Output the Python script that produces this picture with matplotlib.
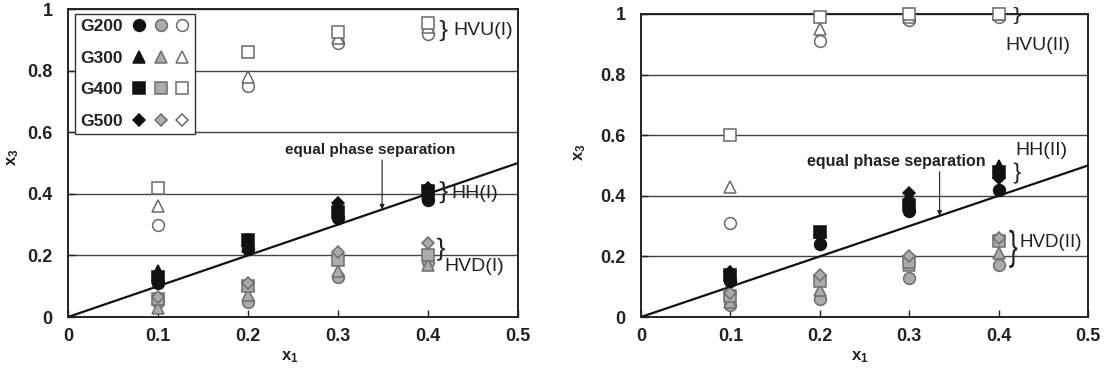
import matplotlib
matplotlib.use("Agg")
import matplotlib.pyplot as plt
from matplotlib.legend_handler import HandlerTuple
from matplotlib.lines import Line2D
from matplotlib.textpath import TextPath
from matplotlib.patches import PathPatch
from matplotlib.font_manager import FontProperties
from matplotlib.transforms import Affine2D, ScaledTranslation

plt.rcParams['font.family'] = ['Liberation Sans', 'DejaVu Sans']

# ---------------- data ----------------
x1 = [0.1, 0.2, 0.3, 0.4]
series = ['G200', 'G300', 'G400', 'G500']

# Panel (I)
hh_I_G200 = [0.11, 0.22, 0.32, 0.38]
hh_I_G300 = [0.15, 0.23, 0.36, 0.40]
hh_I_G400 = [0.13, 0.25, 0.34, 0.41]
hh_I_G500 = [0.12, 0.23, 0.37, 0.42]

hvd_I_G200 = [0.05, 0.05, 0.13, 0.18]
hvd_I_G300 = [0.03, 0.07, 0.15, 0.17]
hvd_I_G400 = [0.06, 0.10, 0.185, 0.20]
hvd_I_G500 = [0.065, 0.11, 0.21, 0.24]

hvu_I_G200 = [0.30, 0.75, 0.89, 0.92]
hvu_I_G300 = [0.36, 0.78, 0.905, 0.94]
hvu_I_G400 = [0.42, 0.86, 0.925, 0.955]

# Panel (II)
hh_II_G200 = [0.12, 0.24, 0.35, 0.42]
hh_II_G300 = [0.15, 0.28, 0.40, 0.50]
hh_II_G400 = [0.14, 0.28, 0.37, 0.48]
hh_II_G500 = [0.15, 0.27, 0.41, 0.46]

hvd_II_G200 = [0.04, 0.06, 0.13, 0.17]
hvd_II_G300 = [0.05, 0.09, 0.17, 0.21]
hvd_II_G400 = [0.07, 0.12, 0.18, 0.25]
hvd_II_G500 = [0.08, 0.14, 0.20, 0.26]

hvu_II_G200 = [0.31, 0.91, 0.98, 0.99]
hvu_II_G300 = [0.43, 0.95, 0.99, 1.0]
hvu_II_G400 = [0.60, 0.99, 1.0, 1.0]

equal_line_x = [0.0, 0.5]
equal_line_y = [0.0, 0.5]

xticks = [0, 0.1, 0.2, 0.3, 0.4, 0.5]
xticklabels = ['0', '0.1', '0.2', '0.3', '0.4', '0.5']
yticks = [0, 0.2, 0.4, 0.6, 0.8, 1.0]
yticklabels = ['0', '0.2', '0.4', '0.6', '0.8', '1']

# ---------------- styles ----------------
markers = {'G200': ('o', 8.5), 'G300': ('^', 8.5), 'G400': ('s', 8), 'G500': ('D', 6.5)}
BLACK = dict(mfc='#111111', mec='#111111')
GRAY = dict(mfc='#ababab', mec='#6e6e6e')
OPEN = dict(mfc='white', mec='#6a6a6a')
INK = '#222222'

fig = plt.figure(figsize=(11.1, 3.72), dpi=100)
ax1 = fig.add_axes([68/1110, 1-317/372, 450/1110, 308/372])
ax2 = fig.add_axes([641/1110, 1-317/372, 447/1110, 303/372])


def plot_panel(ax, hh, hvd, hvu):
    for name, ys in hvu.items():
        m, ms = markers[name]
        ax.plot(x1, ys, ls='none', marker=m, ms=ms, mew=1.1, clip_on=False, zorder=4, **OPEN)
    for name, ys in hvd.items():
        m, ms = markers[name]
        ax.plot(x1, ys, ls='none', marker=m, ms=ms, mew=1.1, clip_on=False, zorder=4, **GRAY)
    for name, ys in hh.items():
        m, ms = markers[name]
        ax.plot(x1, ys, ls='none', marker=m, ms=ms, mew=1.1, clip_on=False, zorder=4, **BLACK)
    ax.plot(equal_line_x, equal_line_y, color='#111111', lw=1.6, zorder=3)
    ax.set_xlim(0, 0.5)
    ax.set_ylim(0, 1)
    ax.set_xticks(xticks)
    ax.set_xticklabels(xticklabels)
    ax.set_yticks(yticks)
    ax.set_yticklabels(yticklabels)
    ax.tick_params(direction='in', length=5, width=1, labelsize=13, colors=INK)
    ax.tick_params(axis='y', pad=11)
    ax.tick_params(axis='x', pad=8)
    for lab in ax.get_xticklabels() + ax.get_yticklabels():
        lab.set_fontweight('bold')
    ax.yaxis.grid(True, color='#444444', lw=1.0)
    ax.set_axisbelow(True)
    for sp in ax.spines.values():
        sp.set_linewidth(1.4)
        sp.set_color(INK)
    ax.set_xlabel(r'$\mathregular{x_1}$', fontsize=12, fontweight='bold', color=INK)
    ax.set_ylabel(r'$\mathregular{x_3}$', fontsize=12, fontweight='bold', color=INK)


plot_panel(ax1,
           {'G200': hh_I_G200, 'G300': hh_I_G300, 'G400': hh_I_G400, 'G500': hh_I_G500},
           {'G200': hvd_I_G200, 'G300': hvd_I_G300, 'G400': hvd_I_G400, 'G500': hvd_I_G500},
           {'G200': hvu_I_G200, 'G300': hvu_I_G300, 'G400': hvu_I_G400})
plot_panel(ax2,
           {'G200': hh_II_G200, 'G300': hh_II_G300, 'G400': hh_II_G400, 'G500': hh_II_G500},
           {'G200': hvd_II_G200, 'G300': hvd_II_G300, 'G400': hvd_II_G400, 'G500': hvd_II_G500},
           {'G200': hvu_II_G200, 'G300': hvu_II_G300, 'G400': hvu_II_G400})

ax1.xaxis.set_label_coords(0.493, -0.105)
ax2.xaxis.set_label_coords(0.49, -0.107)
ax1.yaxis.set_label_coords(-0.105, 0.52)
ax2.yaxis.set_label_coords(-0.118, 0.545)

# legend (panel I)
handles = []
for name in series:
    m, ms = markers[name]
    trio = tuple(Line2D([], [], ls='none', marker=m, ms=ms, mew=1.1, **st)
                 for st in (BLACK, GRAY, OPEN))
    handles.append(trio)
leg = ax1.legend(handles, series, handler_map={tuple: HandlerTuple(ndivide=None, pad=0.35)},
                 loc='upper left', bbox_to_anchor=(0.015, 0.985), borderaxespad=0,
                 markerfirst=False, handlelength=3.4, handletextpad=0.5,
                 labelspacing=0.95, borderpad=0.3, fancybox=False, framealpha=1,
                 edgecolor='#333333', prop=dict(size=12.5, weight='bold'))
leg.get_frame().set_linewidth(1.0)
for t in leg.get_texts():
    t.set_color(INK)

# equal phase separation annotations
ax1.text(0.43, 0.52, 'equal phase separation', ha='right', va='bottom',
         fontsize=11, fontweight='bold', color=INK)
ax1.annotate('', xy=(0.349, 0.349), xytext=(0.349, 0.51),
             arrowprops=dict(arrowstyle='-|>', lw=0.8, color=INK, mutation_scale=7,
                             shrinkA=0, shrinkB=0))
ax2.text(0.385, 0.49, 'equal phase separation', ha='right', va='bottom',
         fontsize=11.5, fontweight='bold', color=INK)
ax2.annotate('', xy=(0.334, 0.334), xytext=(0.334, 0.48),
             arrowprops=dict(arrowstyle='-|>', lw=0.8, color=INK, mutation_scale=7,
                             shrinkA=0, shrinkB=0))

# braces drawn as stretched glyph outlines
_bp = TextPath((0, 0), '}', size=1, prop=FontProperties(family='Liberation Sans'))
_ext = _bp.get_extents()
_norm = Affine2D().translate(-_ext.x0, -(_ext.y0 + _ext.y1) / 2).scale(1 / _ext.width, 1 / _ext.height)


def brace(ax, x, y, w_px, h_px):
    tr = (_norm + Affine2D().scale(w_px / fig.dpi, h_px / fig.dpi) + fig.dpi_scale_trans
          + ScaledTranslation(x, y, ax.transData))
    ax.add_patch(PathPatch(_bp, transform=tr, facecolor=INK, edgecolor='none', lw=0,
                           clip_on=False, zorder=5))


def label(ax, x, y, s, size=14):
    ax.text(x, y, s, ha='left', va='center', fontsize=size, color=INK)


brace(ax1, 0.413, 0.93, 8, 21)
label(ax1, 0.428, 0.93, 'HVU(I)')
brace(ax1, 0.413, 0.405, 8, 22)
label(ax1, 0.426, 0.40, 'HH(I)')
brace(ax1, 0.410, 0.22, 8, 23)
label(ax1, 0.418, 0.165, 'HVD(I)')

brace(ax2, 0.417, 0.995, 7, 17)
label(ax2, 0.408, 0.895, 'HVU(II)')
brace(ax2, 0.417, 0.475, 7, 21)
label(ax2, 0.419, 0.55, 'HH(II)')
brace(ax2, 0.412, 0.225, 8, 38)
label(ax2, 0.423, 0.245, 'HVD(II)', size=13.5)

fig.savefig('out.png', dpi=100)
